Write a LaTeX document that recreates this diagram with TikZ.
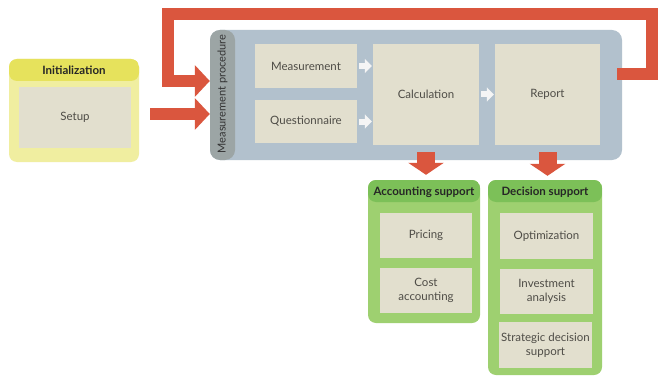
\documentclass[tikz,border=0pt]{standalone}
\usepackage{fontspec}
\setmainfont{Lato}
\usetikzlibrary{arrows.meta}

\definecolor{arrowred}{RGB}{218,86,62}
\definecolor{procblue}{RGB}{178,193,205}
\definecolor{stripgray}{RGB}{156,165,165}
\definecolor{cellbeige}{RGB}{226,223,206}
\definecolor{inityellow}{RGB}{240,238,160}
\definecolor{inittitle}{RGB}{230,226,92}
\definecolor{supgreen}{RGB}{158,208,112}
\definecolor{suptitle}{RGB}{124,192,88}
\definecolor{textgray}{RGB}{78,76,70}

\tikzset{
  frame/.style={rounded corners=8pt,inner sep=0pt},
  band/.style={path picture={\fill[#1] (path picture bounding box.north west)
    rectangle ([yshift=-22pt]path picture bounding box.north east);}},
  strip/.style={path picture={\fill[stripgray] (path picture bounding box.north west)
    rectangle ([xshift=25pt]path picture bounding box.south west);}},
  title/.style={font=\fontsize{11.5}{13}\selectfont\bfseries,text=black!85,inner sep=1pt},
  cell/.style={fill=cellbeige,text=textgray,align=center,inner sep=0pt,
    font=\fontsize{11.5}{13.5}\selectfont},
  sidearrow/.style={draw=arrowred,line width=12pt,line join=miter,
    -{Triangle[length=15pt,width=31pt]}},
  downarrow/.style={draw=arrowred,line width=18pt,
    -{Triangle[length=12pt,width=35pt]}},
  cellarrow/.style={draw=white!92!gray,line width=6pt,
    -{Triangle[length=7pt,width=14pt]},shorten <=2pt,shorten >=1pt}
}

\begin{document}
\begin{tikzpicture}[x=1pt,y=-1pt]
  \useasboundingbox[fill=white] (0,0) rectangle (660,377);

  % initialization
  \node[frame,fill=inityellow,band=inittitle,minimum width=130pt,minimum height=103pt] (init) at (74,110.5) {};
  \node[title] (initlabel) at (74,70) {Initialization};
  \node[cell,minimum width=112pt,minimum height=61pt] (setup) at (75,117.5) {Setup};

  % measurement procedure
  \node[frame,rounded corners=10pt,fill=procblue,strip,minimum width=412pt,minimum height=130pt] (meas) at (416,95) {};
  \node[text=black!80,font=\fontsize{11}{13}\selectfont,rotate=90,inner sep=0pt] (measlabel) at (222.5,94) {Measurement procedure};
  \node[cell,minimum width=102pt,minimum height=44pt] (mment) at (306,66) {Measurement};
  \node[cell,minimum width=102pt,minimum height=43pt] (quest) at (306,121.5) {Questionnaire};
  \node[cell,minimum width=106pt,minimum height=101pt] (calc) at (426,94.5) {Calculation};
  \node[cell,minimum width=105pt,minimum height=101pt] (report) at (547.5,94.5) {Report};

  \draw[cellarrow] (mment.east) -- (mment.east -| calc.west);
  \draw[cellarrow] (quest.east) -- (quest.east -| calc.west);
  \draw[cellarrow] (calc.east) -- (calc.east -| report.west);

  % support boxes
  \node[frame,fill=supgreen,band=suptitle,minimum width=112pt,minimum height=143pt] (acct) at (424,251.5) {};
  \node[title] (acctlabel) at (424,192) {Accounting support};
  \node[cell,minimum width=92pt,minimum height=45pt] (pricing) at (426,235.5) {Pricing};
  \node[cell,minimum width=92pt,minimum height=45pt] (cost) at (426,290.5) {Cost\\accounting};

  \node[frame,fill=supgreen,band=suptitle,minimum width=114pt,minimum height=195pt] (dec) at (545,277.5) {};
  \node[title] (declabel) at (545,192) {Decision support};
  \node[cell,minimum width=93pt,minimum height=46pt] (optim) at (546.5,236) {Optimization};
  \node[cell,minimum width=93pt,minimum height=45pt] (invest) at (546.5,291.5) {Investment\\analysis};
  \node[cell,minimum width=93pt,minimum height=46pt] (strat) at (545.5,345) {Strategic decision\\support};

  % red arrows
  \draw[sidearrow,shorten <=11pt] ([yshift=-3.5pt]init.east) -- ([yshift=-3.5pt]init.east -| meas.west);
  \draw[downarrow,shorten >=5pt] ([yshift=-7pt]calc.south) -- (calc.south |- acct.north);
  \draw[downarrow,shorten >=4pt] ([yshift=-7pt]report.south) -- (report.south |- dec.north);

  % feedback loop
  \coordinate (loopNE) at (652,14);
  \coordinate (loopNW) at (168,14);
  \coordinate (fbout) at ([xshift=-5pt,yshift=21pt]meas.east);
  \coordinate (fbin) at ([yshift=14pt]meas.west);
  \draw[sidearrow] (fbout) -| (loopNE) -- (loopNW) |- (fbin);
\end{tikzpicture}
\end{document}
